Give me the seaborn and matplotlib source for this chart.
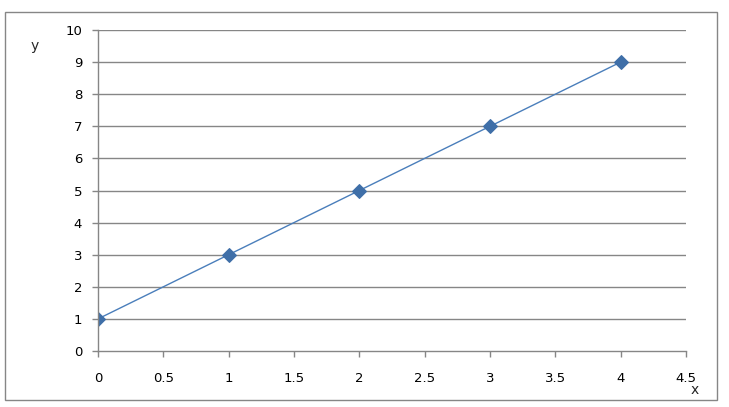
import matplotlib
matplotlib.use('Agg')
import matplotlib.pyplot as plt
import seaborn as sns
import pandas as pd
from matplotlib.patches import Rectangle

# data
x_vals = [0, 1, 2, 3, 4]
y_vals = [1, 3, 5, 7, 9]
x_ticks = [0, 0.5, 1, 1.5, 2, 2.5, 3, 3.5, 4, 4.5]
y_ticks = list(range(0, 11))

df = pd.DataFrame({'x': x_vals, 'y': y_vals})

sns.set_style('white')
plt.rcParams['font.family'] = ['DejaVu Sans']

fig = plt.figure(figsize=(7.29, 4.07), dpi=100)
ax = fig.add_axes([98 / 729, 1 - 351 / 407, (686 - 98) / 729, (351 - 30) / 407])

# outer chart border like excel
fig.patches.append(Rectangle((5 / 729, 1 - 400 / 407), 712 / 729, 388 / 407,
                             transform=fig.transFigure, fill=False,
                             edgecolor='#868686', linewidth=1))

for yv in y_ticks[1:]:
    ax.axhline(yv, color='#868686', linewidth=1, zorder=0)

sns.lineplot(data=df, x='x', y='y', ax=ax, color='#4A7EBB', linewidth=1,
             marker='D', markersize=7, markerfacecolor='#3F6FA8',
             markeredgecolor='#3F6FA8')

ax.set_xlim(0, 4.5)
ax.set_ylim(0, 10)
ax.set_xticks(x_ticks)
ax.set_xticklabels([f'{t:g}' for t in x_ticks])
ax.set_yticks(y_ticks)
ax.tick_params(axis='both', direction='out', length=4, width=1, color='#868686',
               labelsize=9.5, labelcolor='black')
ax.tick_params(axis='x', pad=11, bottom=True)
ax.tick_params(axis='y', pad=7.5, left=True)

for side in ['top', 'right']:
    ax.spines[side].set_visible(False)
for side in ['left', 'bottom']:
    ax.spines[side].set_color('#868686')
    ax.spines[side].set_linewidth(1)

ax.set_xlabel('')
ax.set_ylabel('')
fig.text(35 / 729, 1 - 46 / 407, 'y', fontsize=10, ha='center', va='center')
fig.text(695 / 729, 1 - 397 / 407, 'x', fontsize=10, ha='center', va='bottom')

fig.savefig('out.png', dpi=100)
